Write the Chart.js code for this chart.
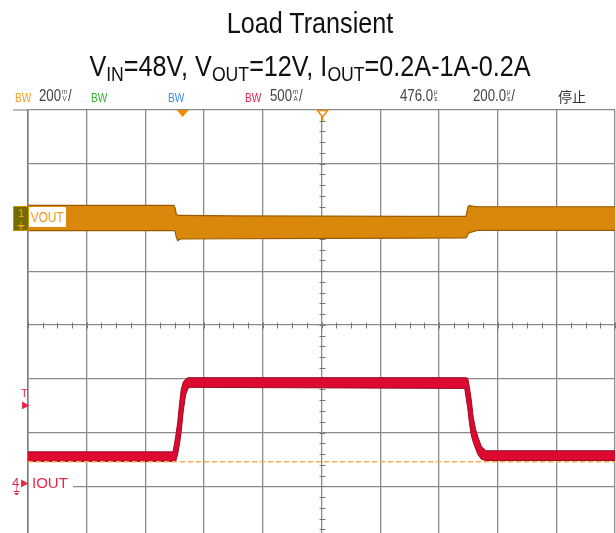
<!DOCTYPE html>
<html>
<head>
<meta charset="utf-8">
<script src="https://cdn.jsdelivr.net/npm/chart.js@4.4.1/dist/chart.umd.min.js"></script>
<style>
  html, body { margin: 0; padding: 0; background: #fff; overflow: hidden; }
  #wrap { position: relative; width: 616px; height: 533px; overflow: hidden; background: #fff; }
  #scope { position: absolute; left: 0; top: 0; }
  .title {
    position: absolute; left: 0; width: 620px; text-align: center; white-space: nowrap;
    font-family: "Liberation Sans", Arial, sans-serif; font-size: 30px; line-height: 30px; color: #111;
    transform: scaleX(0.84); transform-origin: 310px 0;
  }
  .title .s { font-size: 21px; vertical-align: -5px; }
  .hd {
    position: absolute; top: 87px; white-space: nowrap; color: #444;
    font-family: "Liberation Sans", Arial, sans-serif; font-size: 17px; line-height: 17px;
    transform: scaleX(0.78); transform-origin: 0 0;
  }
  .hd.bw { font-size: 13px; top: 89px; }
  .stk { display: inline-block; font-size: 8px; line-height: 7px; vertical-align: top; text-align: center; margin: 1px 1px 0 1px; }
  .cjk { font-family: "Noto Sans CJK SC", sans-serif; transform: none; font-size: 14px; top: 88px; color: #333; }
  .lbl { position: absolute; font-family: "Liberation Sans", Arial, sans-serif; white-space: nowrap; }
</style>
</head>
<body>
<div id="wrap">
  <canvas id="scope" width="616" height="540"></canvas>

  <div class="title" style="top:8px">Load Transient</div>
  <div class="title" style="top:51px">V<span class="s">IN</span>=48V, V<span class="s">OUT</span>=12V, I<span class="s">OUT</span>=0.2A-1A-0.2A</div>

  <div class="hd bw" style="left:15px;color:#f5a020">BW</div>
  <div class="hd" style="left:39px">200<span class="stk">m<br>V</span>/</div>
  <div class="hd bw" style="left:91px;color:#2bb52b">BW</div>
  <div class="hd bw" style="left:168px;color:#3a8de0">BW</div>
  <div class="hd bw" style="left:245px;color:#e8264b">BW</div>
  <div class="hd" style="left:270px">500<span class="stk">m<br>A</span>/</div>
  <div class="hd" style="left:400px">476.0<span class="stk">μ<br>s</span></div>
  <div class="hd" style="left:473px">200.0<span class="stk">μ<br>s</span>/</div>
  <div class="hd cjk" style="left:558px">停止</div>

  <!-- channel markers -->
  <div class="lbl" style="left:13px;top:206px;width:14px;height:23px;background:#746c00;border:1px solid #d99000;color:#f5a020;font-size:11px;line-height:12px;text-align:center">1<br>⏚</div>
  <div class="lbl" style="left:29px;top:207px;width:37px;height:20px;background:#fff;overflow:hidden"><span style="display:inline-block;color:#f09a20;font-size:14px;line-height:20px;padding-left:2px;transform:scaleX(0.85);transform-origin:0 0">VOUT</span></div>
  <div class="lbl" style="left:21px;top:388px;color:#e8264b;font-size:11px;line-height:11px">T</div>
  <div class="lbl" style="left:22px;top:400px;color:#e8264b;font-size:10px;line-height:10px">▶</div>
  <div class="lbl" style="left:12px;top:476px;color:#e8264b;font-size:13px;line-height:13px">4</div>
  <div class="lbl" style="left:13px;top:487px;color:#e8264b;font-size:10px;line-height:10px">⏚</div>
  <div class="lbl" style="left:21px;top:478px;color:#e8264b;font-size:10px;line-height:10px">▶</div>
  <div class="lbl" style="left:29px;top:474px;width:44px;height:18px;background:#fff;color:#e8264b;font-size:15px;line-height:18px;padding-left:3px;box-sizing:border-box">IOUT</div>
</div>

<script>
// scope settings: 200us/div over 10 div, 8 vertical div
const timeMin = 0;
const timeMax = 2000;
const timeStep = 200;
const divMin = 0;
const divMax = 8;

// CH1 VOUT, 200mV/div, ground at div 6
const voutOffsetDiv = 6;
const voutPerDiv = 200;
// CH4 IOUT, 500mA/div, ground at div 1
const ioutOffsetDiv = 1;
const ioutPerDiv = 0.5;

// VOUT noise envelope (mV)
const voutTimes = [0, 497, 501, 505, 510, 520, 700, 1000, 1300, 1492, 1496, 1500, 1505, 1530, 2000];
const voutUpper = [45, 45, 36, 14, 8, 8, 6, 5, 4, 4, 24, 42, 44, 40, 40];
const voutLower = [-49, -49, -50, -72, -86, -80, -79, -78, -77, -76, -70, -60, -56, -48, -48];

// IOUT envelope (A)
const ioutTimes = [0, 494, 500, 503, 510, 516, 522, 529, 537, 545, 553, 1488, 1493, 1498, 1504, 1510, 1517, 1525, 1534, 1545, 1560, 2000];
const ioutUpper = [0.32, 0.32, 0.41, 0.46, 0.59, 0.76, 0.90, 0.97, 0.995, 1.01, 1.01, 1.01, 1.01, 1.005, 0.92, 0.81, 0.64, 0.53, 0.45, 0.37, 0.33, 0.33];
const ioutLower = [0.23, 0.23, 0.23, 0.23, 0.30, 0.39, 0.51, 0.70, 0.85, 0.91, 0.92, 0.91, 0.82, 0.73, 0.59, 0.48, 0.41, 0.35, 0.29, 0.25, 0.24, 0.24];

// dashed reference level on CH4 (A)
const refTimes = [0, 2000];
const refLevel = [0.228, 0.228];

// top markers (us)
const posMarkerTime = 527;
const trigMarkerTime = 1000;

function toPoints(times, values, offset, perDiv) {
  return times.map((t, i) => ({ x: t, y: offset + values[i] / perDiv }));
}

const scopeDecor = {
  id: "scopeDecor",
  beforeDatasetsDraw(chart) {
    const { ctx, chartArea, scales } = chart;
    const x = scales.x;
    const y = scales.y;
    const cx = Math.round(x.getPixelForValue((timeMin + timeMax) / 2)) + 0.5;
    const cy = Math.round(y.getPixelForValue((divMin + divMax) / 2)) + 0.5;
    ctx.save();
    ctx.strokeStyle = "#777";
    ctx.lineWidth = 1;
    ctx.beginPath();
    for (let t = timeMin; t <= timeMax; t += timeStep / 4) {
      const px = Math.round(x.getPixelForValue(t)) + 0.5;
      ctx.moveTo(px, cy - 3);
      ctx.lineTo(px, cy + 3);
    }
    for (let d = divMin; d <= divMax + 0.001; d += 0.2) {
      const py = Math.round(y.getPixelForValue(d)) + 0.5;
      ctx.moveTo(cx - 3, py);
      ctx.lineTo(cx + 3, py);
    }
    ctx.moveTo(13, chartArea.top);
    ctx.lineTo(chartArea.left, chartArea.top);
    ctx.stroke();
    ctx.restore();
  },
  afterDatasetsDraw(chart) {
    const { ctx, chartArea, scales } = chart;
    const top = chartArea.top;
    const px = scales.x.getPixelForValue(posMarkerTime);
    const tx = Math.round(scales.x.getPixelForValue(trigMarkerTime)) + 0.5;
    ctx.save();
    ctx.fillStyle = "#f08a00";
    ctx.beginPath();
    ctx.moveTo(px - 6, top);
    ctx.lineTo(px + 6, top);
    ctx.lineTo(px, top + 7);
    ctx.closePath();
    ctx.fill();
    ctx.strokeStyle = "#f08a00";
    ctx.fillStyle = "#fff";
    ctx.lineWidth = 1.5;
    ctx.beginPath();
    ctx.moveTo(tx - 5, top + 0.5);
    ctx.lineTo(tx + 5, top + 0.5);
    ctx.lineTo(tx, top + 7);
    ctx.closePath();
    ctx.fill();
    ctx.stroke();
    ctx.beginPath();
    ctx.moveTo(tx, top + 7);
    ctx.lineTo(tx, top + 11);
    ctx.stroke();
    ctx.restore();
  },
};

const lineBase = {
  pointRadius: 0,
  tension: 0,
  fill: false,
};

new Chart(document.getElementById("scope"), {
  type: "line",
  data: {
    datasets: [
      {
        ...lineBase,
        label: "ref",
        data: toPoints(refTimes, refLevel, ioutOffsetDiv, ioutPerDiv),
        borderColor: "#f7aa55",
        borderWidth: 1.5,
        borderDash: [5, 3],
        order: 0,
      },
      {
        ...lineBase,
        label: "IOUT max",
        data: toPoints(ioutTimes, ioutUpper, ioutOffsetDiv, ioutPerDiv),
        borderColor: "#9a0a22",
        borderWidth: 1,
        backgroundColor: "#dc0a30",
        fill: "+1",
        order: 2,
      },
      {
        ...lineBase,
        label: "IOUT min",
        data: toPoints(ioutTimes, ioutLower, ioutOffsetDiv, ioutPerDiv),
        borderColor: "#9a0a22",
        borderWidth: 1,
        order: 1,
      },
      {
        ...lineBase,
        label: "VOUT max",
        data: toPoints(voutTimes, voutUpper, voutOffsetDiv, voutPerDiv),
        borderColor: "#9a5a00",
        borderWidth: 1.2,
        backgroundColor: "#d9880c",
        fill: "+1",
        order: 4,
      },
      {
        ...lineBase,
        label: "VOUT min",
        data: toPoints(voutTimes, voutLower, voutOffsetDiv, voutPerDiv),
        borderColor: "#9a5a00",
        borderWidth: 1.2,
        order: 3,
      },
    ],
  },
  options: {
    responsive: false,
    animation: false,
    layout: { padding: { left: 28, top: 110, right: 1, bottom: 0 } },
    plugins: {
      legend: { display: false },
      tooltip: { enabled: false },
    },
    scales: {
      x: {
        type: "linear",
        min: timeMin,
        max: timeMax,
        ticks: { display: false, stepSize: timeStep },
        grid: { color: "#8a8a8a", lineWidth: 1.3, drawTicks: false },
        border: { color: "#7a7a7a", width: 1.5 },
      },
      y: {
        type: "linear",
        min: divMin,
        max: divMax,
        ticks: { display: false, stepSize: 1 },
        grid: { color: "#8a8a8a", lineWidth: 1.3, drawTicks: false },
        border: { color: "#7a7a7a", width: 1.5 },
      },
    },
  },
  plugins: [scopeDecor],
});
</script>
</body>
</html>
